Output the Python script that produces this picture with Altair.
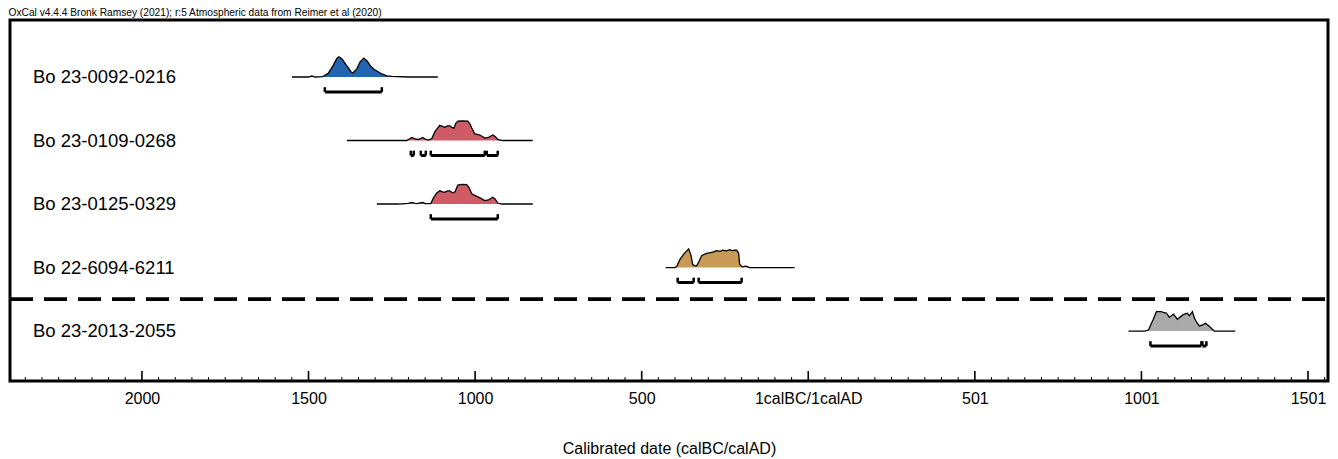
import altair as alt
import pandas as pd

# ---------------- data ----------------
SAMPLES = ["Bo 23-0092-0216", "Bo 23-0109-0268", "Bo 23-0125-0329",
           "Bo 22-6094-6211", "Bo 23-2013-2055"]
COLORS = ["#2264b0", "#cf5b66", "#cf5b66", "#c99a55", "#aaaaaa"]

# date axis: negative = calBC (0 = 1calBC/1calAD boundary), positive = calAD - 1
T0 = [-1550, -1500, -1490, -1480, -1457, -1440, -1425, -1415, -1409, -1400, -1385,
      -1372, -1367, -1355, -1345, -1334, -1325, -1312, -1301, -1290, -1280, -1265,
      -1250, -1200, -1112]
H0 = [0, 0, 0.05, 0, 0.02, 0.2, 0.6, 0.92, 1.0, 0.9, 0.55,
      0.25, 0.2, 0.4, 0.75, 0.93, 0.8, 0.5, 0.35, 0.25, 0.15, 0.06,
      0.03, 0, 0]

T1 = [-1385, -1250, -1205, -1195, -1190, -1180, -1170, -1157, -1148, -1140, -1130,
      -1120, -1106, -1098, -1091, -1083, -1076, -1070, -1064, -1058, -1052, -1040,
      -1022, -1015, -1010, -1001, -993, -986, -978, -971, -960, -947, -940, -932,
      -917, -827]
H1 = [0, 0, 0, 0.1, 0.15, 0.08, 0.05, 0.15, 0.05, 0.02, 0.1,
      0.45, 0.75, 0.7, 0.65, 0.72, 0.72, 0.65, 0.6, 0.85, 0.95, 0.97,
      0.95, 0.8, 0.62, 0.33, 0.3, 0.27, 0.2, 0.12, 0.15, 0.27, 0.2, 0.05,
      0, 0]

T2 = [-1295, -1230, -1200, -1190, -1180, -1175, -1165, -1157, -1150, -1133, -1125,
      -1115, -1106, -1098, -1091, -1083, -1076, -1068, -1060, -1052, -1040, -1025,
      -1018, -1010, -998, -985, -971, -960, -947, -940, -932, -920, -827]
H2 = [0, 0, 0.03, 0.08, 0.03, 0.02, 0.06, 0.08, 0.02, 0.02, 0.3,
      0.55, 0.65, 0.6, 0.58, 0.65, 0.65, 0.55, 0.6, 0.93, 0.97, 0.95,
      0.8, 0.5, 0.4, 0.3, 0.17, 0.2, 0.33, 0.25, 0.05, 0, 0]

T3 = [-428, -400, -395, -385, -372, -359, -352, -347, -340, -335, -328, -320, -312,
      -305, -298, -290, -282, -275, -265, -257, -245, -236, -228, -221, -215, -209,
      -206, -200, -197, -188, -185, -176, -41]
H3 = [0, 0, 0.05, 0.4, 0.7, 0.92, 0.6, 0.15, 0.08, 0.08, 0.3, 0.58, 0.65,
      0.7, 0.72, 0.75, 0.78, 0.83, 0.8, 0.85, 0.82, 0.88, 0.83, 0.85, 0.85, 0.7,
      0.17, 0.05, 0.03, 0.07, 0.06, 0, 0]

T4 = [961, 1010, 1021, 1035, 1045, 1060, 1068, 1075, 1084, 1096, 1108, 1123, 1134,
      1138, 1144, 1153, 1160, 1166, 1174, 1184, 1192, 1200, 1206, 1212, 1219, 1282]
H4 = [0, 0, 0.05, 0.55, 0.95, 0.95, 0.9, 0.88, 0.67, 0.83, 0.58, 0.78, 0.86,
      0.88, 0.75, 0.95, 0.6, 0.42, 0.25, 0.3, 0.38, 0.28, 0.2, 0.1, 0, 0]

T_LIST = [T0, T1, T2, T3, T4]
H_LIST = [H0, H1, H2, H3, H4]

# 95.4% ranges (start, end) per sample
RANGES = [
    [(-1451, -1280)],
    [(-1193, -1184), (-1163, -1148), (-1133, -971), (-965, -932)],
    [(-1133, -932)],
    [(-392, -344), (-329, -200)],
    [(1027, 1180), (1183, 1195)],
]

TICK_VALUES = [-2000, -1500, -1000, -500, 0, 500, 1000, 1500]
TICK_LABELS = ["2000", "1500", "1000", "500", "1calBC/1calAD", "501", "1001", "1501"]
MINOR_STEP = 50

HEADER = "OxCal v4.4.4 Bronk Ramsey (2021); r:5 Atmospheric data from Reimer et al (2020)"
X_TITLE = "Calibrated date (calBC/calAD)"

# ---------------- layout ----------------
W, H = 1318, 361
X_DOMAIN = [-2396, 1560]
Y_DOMAIN = [-0.898, 4.787]
PEAK = 0.32
BR = 0.236
BR_END = 0.16
FONT = "Liberation Sans"

dens_rows = []
for i, (s, ts, hs) in enumerate(zip(SAMPLES, T_LIST, H_LIST)):
    for t, h in zip(ts, hs):
        dens_rows.append(dict(sample=s, row=i, t=t, top=i - h * PEAK, base=i))
dens = pd.DataFrame(dens_rows)

br_rows, end_rows = [], []
for i, (s, rs) in enumerate(zip(SAMPLES, RANGES)):
    for a, b in rs:
        br_rows.append(dict(sample=s, t1=a, t2=b, y=i + BR))
        for e in (a, b):
            end_rows.append(dict(sample=s, t=e, y1=i + BR, y2=i + BR_END))
br = pd.DataFrame(br_rows)
ends = pd.DataFrame(end_rows)

labels = pd.DataFrame(dict(sample=SAMPLES, row=list(range(len(SAMPLES)))))

ticks = pd.DataFrame(dict(t=list(range(-2350, X_DOMAIN[1], MINOR_STEP))))
ticks["major"] = ticks["t"].isin(TICK_VALUES)

label_expr = " : ".join(
    f"datum.value == {v} ? '{l}'" for v, l in zip(TICK_VALUES, TICK_LABELS)
) + " : ''"

xscale = alt.Scale(domain=X_DOMAIN, nice=False, zero=False)
yscale = alt.Scale(domain=Y_DOMAIN, nice=False, zero=False, reverse=True)

x_axis = alt.Axis(values=TICK_VALUES, labelExpr=label_expr, ticks=False, domain=False,
                  grid=False, labelFontSize=16, labelFont=FONT, labelColor="black",
                  labelPadding=9, labelFlush=False, title=X_TITLE, titleFont=FONT,
                  titleFontSize=16, titleFontWeight="normal", titleColor="black",
                  titlePadding=34)


def X(field):
    return alt.X(field, scale=xscale, axis=x_axis)


def Y(field):
    return alt.Y(field, scale=yscale, axis=None)


area_layers = []
for s, c in zip(SAMPLES, COLORS):
    area_layers.append(
        alt.Chart(dens[dens["sample"] == s]).mark_area(color=c, opacity=1).encode(
            x=X("t:Q"), y=Y("top:Q"), y2="base:Q",
        )
    )

outline = alt.Chart(dens).mark_line(color="black", strokeWidth=1.3).encode(
    x=X("t:Q"), y=Y("top:Q"), detail="sample:N", order="t:Q",
)

brackets = alt.Chart(br).mark_rule(color="black", strokeWidth=3).encode(
    x=X("t1:Q"), x2="t2:Q", y=Y("y:Q"),
)
bracket_ends = alt.Chart(ends).mark_rule(color="black", strokeWidth=2.5).encode(
    x=X("t:Q"), y=Y("y1:Q"), y2="y2:Q",
)

row_text = alt.Chart(labels).mark_text(align="left", baseline="middle", fontSize=18.5,
                                       font=FONT, color="black").encode(
    x=alt.value(23), y=Y("row:Q"), text="sample:N",
)

sep = alt.Chart(labels).mark_rule(color="black", strokeWidth=3, strokeDash=[23, 11]).encode(
    x=alt.value(0), x2=alt.value(W), y=alt.datum(3.5, scale=yscale, axis=None)
)

major = alt.Chart(ticks[ticks["major"]]).mark_rule(color="black", strokeWidth=1.6).encode(
    x=X("t:Q"), y=alt.value(H), y2=alt.value(H - 10)
)
minor = alt.Chart(ticks[~ticks["major"]]).mark_rule(color="black", strokeWidth=1).encode(
    x=X("t:Q"), y=alt.value(H), y2=alt.value(H - 4)
)

chart = alt.layer(*area_layers, outline, brackets, bracket_ends, row_text, sep, major, minor).properties(
    width=W, height=H,
    title=alt.TitleParams(HEADER, anchor="start", fontSize=10.2, font=FONT,
                          fontWeight="normal", color="black", offset=2),
    autosize=alt.AutoSizeParams(type="none"),
    padding={"left": 2, "top": 12, "right": 2, "bottom": 76},
).configure_view(stroke="black", strokeWidth=3)

chart.save("out.html", embed_options={"renderer": "svg", "actions": False})
